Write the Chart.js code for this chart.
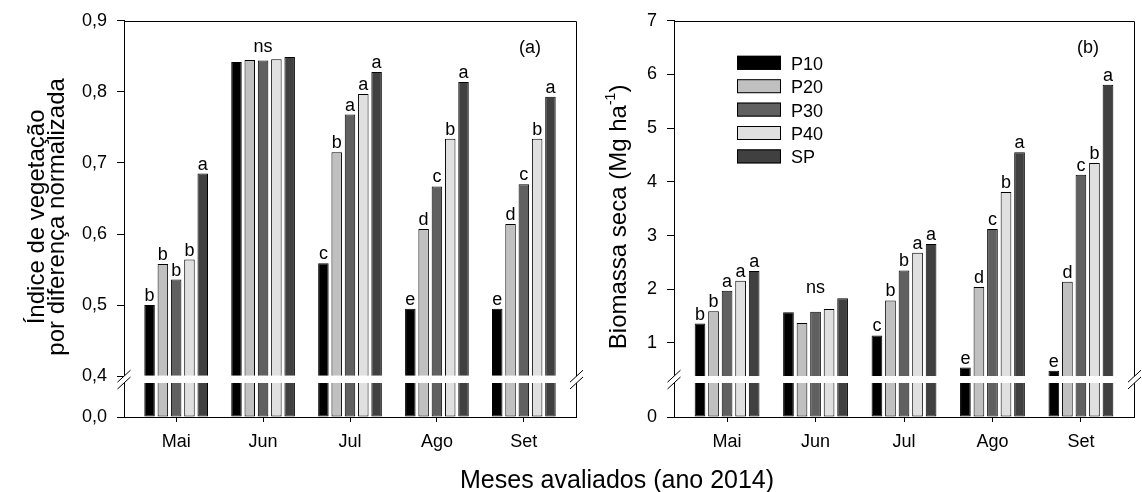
<!DOCTYPE html>
<html lang="pt">
<head>
<meta charset="utf-8">
<title>NDVI e biomassa seca</title>
<script src="https://cdn.jsdelivr.net/npm/chart.js@4.4.1/dist/chart.umd.min.js"></script>
<style>
  html, body { margin: 0; padding: 0; background: #fff; }
  #wrap { position: relative; width: 1142px; height: 492px; overflow: hidden;
          font-family: "Liberation Sans", Arial, Helvetica, sans-serif; }
  #ndviChart { position: absolute; left: 0; top: 0; }
  #biomChart { position: absolute; left: 590px; top: 0; }
  #xTitle { position: absolute; left: 460px; top: 467px; font-size: 25px; line-height: 25px;
            color: #000; white-space: nowrap; }
</style>
</head>
<body>
<div id="wrap">
  <canvas id="ndviChart" width="600" height="492"></canvas>
  <canvas id="biomChart" width="552" height="492"></canvas>
  <div id="xTitle">Meses avaliados (ano 2014)</div>
</div>
<script>
const months = ["Mai", "Jun", "Jul", "Ago", "Set"];
const treatments = ["P10", "P20", "P30", "P40", "SP"];
const fills = ["#000000", "#c0c0c0", "#606060", "#e0e0e0", "#404040"];

// NDVI por tratamento (Mai..Set)
const ndviP10 = [0.500, 0.842, 0.559, 0.495, 0.495];
const ndviP20 = [0.558, 0.845, 0.715, 0.607, 0.614];
const ndviP30 = [0.536, 0.844, 0.768, 0.667, 0.670];
const ndviP40 = [0.564, 0.846, 0.797, 0.734, 0.734];
const ndviSP  = [0.685, 0.849, 0.828, 0.814, 0.793];
const ndviTicks = [0.4, 0.5, 0.6, 0.7, 0.8, 0.9];

// letras do teste de médias (vazio = ns)
const ndviLetP10 = ["b", "", "c", "e", "e"];
const ndviLetP20 = ["b", "", "b", "d", "d"];
const ndviLetP30 = ["b", "", "a", "c", "c"];
const ndviLetP40 = ["b", "", "a", "b", "b"];
const ndviLetSP  = ["a", "", "a", "a", "a"];

// biomassa seca (Mg/ha)
const biomP10 = [1.36, 1.57, 1.14, 0.54, 0.48];
const biomP20 = [1.59, 1.37, 1.79, 2.04, 2.14];
const biomP30 = [1.97, 1.58, 2.35, 3.12, 4.13];
const biomP40 = [2.16, 1.63, 2.68, 3.81, 4.35];
const biomSP  = [2.34, 1.83, 2.84, 4.55, 5.81];
const biomTicks = [1, 2, 3, 4, 5, 6, 7];

const biomLetP10 = ["b", "", "c", "e", "e"];
const biomLetP20 = ["b", "", "b", "d", "d"];
const biomLetP30 = ["a", "", "b", "c", "c"];
const biomLetP40 = ["a", "", "a", "b", "b"];
const biomLetSP  = ["a", "", "a", "a", "a"];

const nsMonths = [1];

document.addEventListener("DOMContentLoaded", () => {
  const FONT = '"Liberation Sans", Arial, Helvetica, sans-serif';
  Chart.defaults.font.family = FONT;
  Chart.defaults.font.size = 18;
  Chart.defaults.color = "#000";

  const crisp = v => Math.round(v) + 0.5;

  function drawBreak(ctx, x, top, bottom) {
    const dx = 6.5, dy = 6;
    ctx.save();
    ctx.fillStyle = "#fff";
    ctx.beginPath();
    ctx.moveTo(x - dx, top + dy);
    ctx.lineTo(x + dx, top - dy);
    ctx.lineTo(x + dx, bottom - dy);
    ctx.lineTo(x - dx, bottom + dy);
    ctx.closePath();
    ctx.fill();
    ctx.strokeStyle = "#000";
    ctx.lineWidth = 1;
    ctx.beginPath();
    ctx.moveTo(x - dx, top + dy);
    ctx.lineTo(x + dx, top - dy);
    ctx.moveTo(x - dx, bottom + dy);
    ctx.lineTo(x + dx, bottom - dy);
    ctx.stroke();
    ctx.restore();
  }

  function drawVerticalTitle(ctx, lines, cy) {
    lines.forEach(line => {
      ctx.save();
      ctx.translate(line.x, cy);
      ctx.rotate(-Math.PI / 2);
      ctx.textAlign = "left";
      ctx.textBaseline = "alphabetic";
      let total = 0;
      line.parts.forEach(pt => {
        ctx.font = `${pt.size}px ${FONT}`;
        total += ctx.measureText(pt.text).width;
      });
      let pos = -total / 2;
      line.parts.forEach(pt => {
        ctx.font = `${pt.size}px ${FONT}`;
        ctx.fillText(pt.text, pos, -(pt.rise || 0));
        pos += ctx.measureText(pt.text).width;
      });
      ctx.restore();
    });
  }

  function makeDecor(p) {
    return {
      id: "panelDecor",
      afterDraw(chart) {
        const ctx = chart.ctx;
        const area = chart.chartArea;
        const upper = chart.scales.y;
        const lower = chart.scales.yLow;

        // moldura superior e direita
        ctx.save();
        ctx.strokeStyle = "#000";
        ctx.lineWidth = 1;
        ctx.beginPath();
        ctx.moveTo(area.left, crisp(area.top));
        ctx.lineTo(crisp(area.right), crisp(area.top));
        ctx.lineTo(crisp(area.right), area.bottom);
        ctx.stroke();
        ctx.restore();

        // quebra do eixo
        const bTop = upper.bottom;
        const bBottom = lower.getPixelForValue(p.breakAt);
        drawBreak(ctx, area.left, bTop, bBottom);
        drawBreak(ctx, crisp(area.right), bTop, bBottom);

        // letras sobre as barras
        ctx.save();
        ctx.font = `18px ${FONT}`;
        ctx.fillStyle = "#000";
        ctx.textAlign = "center";
        ctx.textBaseline = "alphabetic";
        for (let i = 0; i < treatments.length; i++) {
          chart.getDatasetMeta(i).data.forEach((bar, m) => {
            const t = p.letters[i][m];
            if (t) ctx.fillText(t, bar.x, bar.y - 4);
          });
        }
        nsMonths.forEach(m => {
          let top = Infinity;
          for (let i = 0; i < treatments.length; i++) {
            top = Math.min(top, chart.getDatasetMeta(i).data[m].y);
          }
          ctx.fillText("ns", chart.scales.x.getPixelForValue(m), top - 5);
        });

        // (a) / (b)
        ctx.textBaseline = "middle";
        ctx.fillText(p.tag, area.right - 46, area.top + 27);
        ctx.restore();

        // legenda
        if (p.legend) {
          ctx.save();
          ctx.font = `18px ${FONT}`;
          ctx.textAlign = "left";
          ctx.textBaseline = "alphabetic";
          const lx = area.left + 63, ly = area.top + 35;
          for (let i = 0; i < treatments.length; i++) {
            const ds = chart.data.datasets[i];
            const y = ly + i * 23.4;
            ctx.fillStyle = ds.backgroundColor;
            ctx.fillRect(lx, y, 44, 14);
            ctx.strokeStyle = "#000";
            ctx.lineWidth = 1;
            ctx.strokeRect(lx + 0.5, y + 0.5, 43, 13);
            ctx.fillStyle = "#000";
            ctx.fillText(ds.label, lx + 54, y + 14);
          }
          ctx.restore();
        }

        ctx.save();
        ctx.fillStyle = "#000";
        drawVerticalTitle(ctx, p.title, (area.top + area.bottom) / 2 - 2);
        ctx.restore();
      }
    };
  }

  function buildPanel(canvasId, p) {
    const upperSets = p.values.map((vals, i) => ({
      label: treatments[i],
      data: vals.map((v, m) => ({ x: m, y: v })),
      yAxisID: "y",
      stack: treatments[i],
      base: p.breakAt,
      backgroundColor: fills[i],
      borderColor: "#000",
      borderWidth: 1,
      borderSkipped: "start",
      categoryPercentage: 0.765,
      barPercentage: 0.79
    }));
    // trecho abaixo da quebra
    const lowerSets = p.values.map((vals, i) => ({
      label: treatments[i],
      data: vals.map((v, m) => ({ x: m, y: Math.min(v, p.breakAt) })),
      yAxisID: "yLow",
      stack: treatments[i],
      backgroundColor: fills[i],
      borderColor: "#000",
      borderWidth: 1,
      borderSkipped: "end",
      categoryPercentage: 0.765,
      barPercentage: 0.79
    }));

    const tickGrid = len => ({ drawOnChartArea: false, offset: false, tickLength: len, tickColor: "#000", tickWidth: 1 });

    return new Chart(document.getElementById(canvasId), {
      type: "bar",
      data: { datasets: upperSets.concat(lowerSets) },
      options: {
        responsive: false,
        animation: false,
        devicePixelRatio: 1,
        events: [],
        layout: { padding: { top: 19, right: p.padRight, bottom: 0, left: 0 } },
        plugins: { legend: { display: false }, tooltip: { enabled: false } },
        scales: {
          x: {
            type: "linear",
            offset: false,
            min: -0.6,
            max: 4.6,
            afterBuildTicks: s => { s.ticks = months.map((_, i) => ({ value: i })); },
            afterFit: s => { s.height = 75; },
            ticks: { callback: v => months[v], padding: 9, maxRotation: 0 },
            grid: tickGrid(5),
            border: { color: "#000", width: 1 }
          },
          y: {
            type: "linear",
            position: "left",
            stack: "panel",
            stackWeight: 357,
            weight: 1,
            min: p.breakAt,
            max: p.top,
            afterBuildTicks: s => { s.ticks = p.ticks.map(v => ({ value: v })); },
            afterFit: s => { s.width = p.axisWidth; },
            ticks: { callback: v => p.fmt(v), padding: 10 },
            grid: tickGrid(7),
            border: { color: "#000", width: 1 }
          },
          yLow: {
            type: "linear",
            position: "left",
            stack: "panel",
            stackWeight: 41,
            weight: 0,
            min: 0,
            max: p.breakAt * 1.2,
            afterBuildTicks: s => { s.ticks = [{ value: 0 }]; },
            afterFit: s => { s.width = p.axisWidth; },
            ticks: { callback: v => p.fmt(v), padding: 10 },
            grid: tickGrid(7),
            border: { color: "#000", width: 1 }
          }
        }
      },
      plugins: [makeDecor(p)]
    });
  }

  buildPanel("ndviChart", {
    values: [ndviP10, ndviP20, ndviP30, ndviP40, ndviSP],
    letters: [ndviLetP10, ndviLetP20, ndviLetP30, ndviLetP40, ndviLetSP],
    ticks: ndviTicks,
    breakAt: 0.4,
    top: 0.9,
    fmt: v => v.toFixed(1).replace(".", ","),
    tag: "(a)",
    axisWidth: 124,
    padRight: 24,
    legend: false,
    title: [
      { x: 44, parts: [{ text: "Índice de vegetação", size: 24 }] },
      { x: 64, parts: [{ text: "por diferença normalizada", size: 24 }] }
    ]
  });

  buildPanel("biomChart", {
    values: [biomP10, biomP20, biomP30, biomP40, biomSP],
    letters: [biomLetP10, biomLetP20, biomLetP30, biomLetP40, biomLetSP],
    ticks: biomTicks,
    breakAt: 0.38,
    top: 7,
    fmt: v => String(v),
    tag: "(b)",
    axisWidth: 84,
    padRight: 8,
    legend: true,
    title: [
      { x: 36, parts: [
        { text: "Biomassa seca (Mg ha", size: 24 },
        { text: "-1", size: 14, rise: 11 },
        { text: ")", size: 24 }
      ] }
    ]
  });
});
</script>
</body>
</html>
